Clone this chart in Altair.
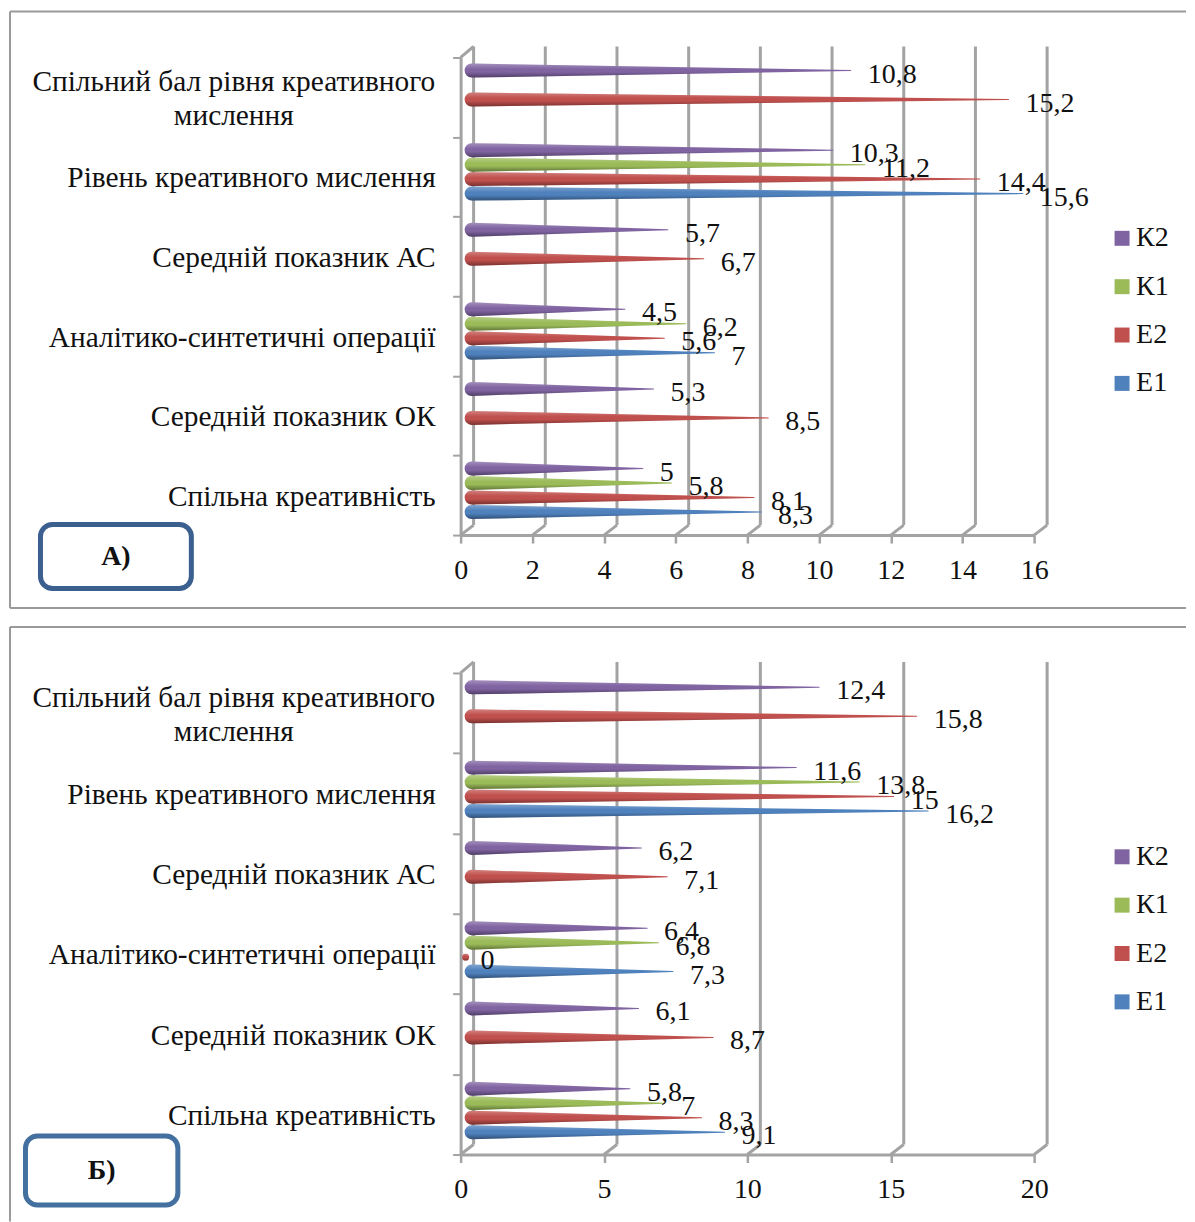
import altair as alt
import pandas as pd

categories = ["Спільна креативність", "Середній показник ОК", "Аналітико-синтетичні операції",
              "Середній показник АС", "Рівень креативного мислення",
              "Спільний бал рівня креативного\nмислення"]
series_names = ["Е1", "Е2", "К1", "К2"]
colors = ["#4F81BD", "#C0504D", "#9BBB59", "#8064A2"]

a_e1 = [8.3, None, 7, None, 15.6, None]
a_e2 = [8.1, 8.5, 5.6, 6.7, 14.4, 15.2]
a_k1 = [5.8, None, 6.2, None, 11.2, None]
a_k2 = [5, 5.3, 4.5, 5.7, 10.3, 10.8]

b_e1 = [9.1, None, 7.3, None, 16.2, None]
b_e2 = [8.3, 8.7, 0, 7.1, 15, 15.8]
b_k1 = [7, None, 6.8, None, 13.8, None]
b_k2 = [5.8, 6.1, 6.4, 6.2, 11.6, 12.4]

FONT = "Liberation Serif"
GREY = "#a3a3a3"
FS = 28
FS_CAT = 29.4


def panel(series, x_max, x_step, plot_h, badge, box, frame, bounds, legend_y, shift):
    W = 574
    unit = W / x_max
    band = plot_h / 6
    rows, tips = [], []
    for name, vals in zip(series_names, series):
        slot = series_names.index(name)
        for cat, v in enumerate(vals):
            if v is None:
                continue
            y = cat + 0.5 + shift / band + (slot - 1.5) * 14.5 / band
            start = (8 if v > 0 else 2) / unit
            rows.append(dict(s=name, c=cat, x=start, y=y, size=14 if v > 0 else 7))
            rows.append(dict(s=name, c=cat, x=max(v, start), y=y, size=0 if v > 0 else 7))
            tips.append(dict(x=v, y=y, t=f"{v:g}".replace(".", ",")))
    bars = pd.DataFrame(rows)
    labels = pd.DataFrame(tips)
    ticks = pd.DataFrame({"x": list(range(0, x_max + 1, x_step))})
    cats = pd.DataFrame({"y": [i + 0.5 for i in range(6)], "t": categories})
    keys = pd.DataFrame({"s": series_names[::-1], "x": [0] * 4, "y": [0] * 4})

    xs = alt.Scale(domain=[0, x_max], nice=False)
    ys = alt.Scale(domain=[0, 6], nice=False)
    xq = alt.X("x:Q", scale=xs, title=None,
               axis=alt.Axis(values=ticks.x.tolist(), grid=False, tickSize=8, tickColor=GREY, tickWidth=2.5,
                             domainColor=GREY, domainWidth=3, labelFont=FONT, labelFontSize=FS,
                             labelColor="#111", labelPadding=13, labelFlush=False, format="d"))
    yq = alt.Y("y:Q", scale=ys, title=None,
               axis=alt.Axis(values=list(range(7)), labels=False, grid=False, tickSize=8, tickColor=GREY,
                             tickWidth=2, domainColor=GREY, domainWidth=3))
    cs = alt.Scale(domain=series_names[::-1], range=colors[::-1])

    L, T, R, B = bounds
    one = alt.Data(values=[{}])
    layers = []
    layers.append(alt.Chart(one).mark_rect(fill="transparent", stroke=None).encode(
        x=alt.value(L), x2=alt.value(R), y=alt.value(T), y2=alt.value(B)))
    fl, ft, fb = frame
    layers.append(alt.Chart(one).mark_rule(color="#9a9a9a", strokeWidth=2).encode(
        x=alt.value(fl), x2=alt.value(R), y=alt.value(ft)))
    layers.append(alt.Chart(one).mark_rule(color="#9a9a9a", strokeWidth=2).encode(
        x=alt.value(fl), y=alt.value(ft), y2=alt.value(fb if fb is not None else B)))
    if fb is not None:
        layers.append(alt.Chart(one).mark_rule(color="#9a9a9a", strokeWidth=2).encode(
            x=alt.value(fl), x2=alt.value(R), y=alt.value(fb)))
    layers.append(alt.Chart(ticks).mark_rule(color=GREY, strokeWidth=3, xOffset=13).encode(
        x=xq, y=alt.value(-11), y2=alt.value(plot_h - 10)))
    layers.append(alt.Chart(ticks).mark_rule(color=GREY, strokeWidth=3, x2Offset=13).encode(
        x=xq, x2="x:Q", y=alt.value(plot_h), y2=alt.value(plot_h - 10)))
    layers.append(alt.Chart(ticks[ticks.x == 0]).mark_rule(color=GREY, strokeWidth=3, x2Offset=13).encode(
        x=xq, x2="x:Q", y=alt.value(0), y2=alt.value(-11)))
    # legend carrier: square symbols, not drawn in the plot
    layers.append(alt.Chart(keys).mark_point(shape="square", filled=True, opacity=0, size=0).encode(
        x=xq, y=yq,
        color=alt.Color("s:N", scale=cs,
                        legend=alt.Legend(title=None, orient="none", legendX=648, legendY=legend_y,
                                          symbolType="square", symbolSize=225, symbolOpacity=1, symbolStrokeWidth=0,
                                          labelFont=FONT, labelFontSize=FS, labelColor="#111",
                                          labelOffset=0, rowPadding=20.4, labelLimit=80))))
    layers.append(alt.Chart(bars).mark_trail(xOffset=3).encode(
        x=xq, y=yq,
        color=alt.Color("s:N", scale=cs, legend=None),
        size=alt.Size("size:Q", scale=None, legend=None),
        detail=["c:N", "s:N"], order=alt.Order("x:Q")))
    shade = alt.Gradient(gradient="linear", x1=0, x2=0, y1=0, y2=1, stops=[
        alt.GradientStop(color="rgba(255,255,255,0.28)", offset=0),
        alt.GradientStop(color="rgba(255,255,255,0)", offset=0.4),
        alt.GradientStop(color="rgba(0,0,0,0)", offset=0.6),
        alt.GradientStop(color="rgba(0,0,0,0.38)", offset=1)])
    layers.append(alt.Chart(bars).mark_trail(xOffset=3, color=shade).encode(
        x=xq, y=yq,
        size=alt.Size("size:Q", scale=None, legend=None),
        detail=["c:N", "s:N"], order=alt.Order("x:Q")))
    layers.append(alt.Chart(labels).mark_text(align="left", baseline="middle", dx=20, dy=4, font=FONT,
                                              fontSize=FS, color="#111").encode(
        x=xq, y=yq, text="t:N"))
    single = cats[~cats.t.str.contains("\n")]
    double = cats[cats.t.str.contains("\n")]
    layers.append(alt.Chart(single).mark_text(align="right", baseline="middle", dy=1.5, font=FONT,
                                              fontSize=FS_CAT, color="#111").encode(
        x=alt.value(-25), y=yq, text="t:N"))
    layers.append(alt.Chart(double).mark_text(align="center", baseline="middle", dy=-15.5, font=FONT, fontSize=FS_CAT,
                                              color="#111", lineBreak="\n", lineHeight=34).encode(
        x=alt.value(-227), y=yq, text="t:N"))
    bx0, bx1, by0, by1, bcol = box
    layers.append(alt.Chart(one).mark_rect(fill="white", stroke=bcol, strokeWidth=5, cornerRadius=12).encode(
        x=alt.value(bx0), x2=alt.value(bx1), y=alt.value(by0), y2=alt.value(by1)))
    layers.append(alt.Chart(pd.DataFrame({"t": [badge]})).mark_text(
        align="center", baseline="middle", font=FONT, fontSize=FS, fontWeight="bold", color="#111").encode(
        x=alt.value((bx0 + bx1) / 2), y=alt.value((by0 + by1) / 2), text="t:N"))

    return alt.layer(*layers).properties(width=W, height=plot_h)


top_a, top_b = 57, 673
x0 = 461
right = 1187
chart_a = panel([a_e1, a_e2, a_k1, a_k2], 16, 2, 478, "А)",
                (40.5 - x0, 191.5 - x0, 524.5 - top_a, 588.5 - top_a, "#3B5F8F"),
                (10 - x0, 11 - top_a, 608 - top_a),
                (8 - x0, 8 - top_a, right - x0, 617 - top_a), 167, 5)
chart_b = panel([b_e1, b_e2, b_k1, b_k2], 20, 5, 482, "Б)",
                (25.5 - x0, 178 - x0, 1136.5 - top_b, 1205.5 - top_b, "#44709F"),
                (10 - x0, 627 - top_b, None),
                (8 - x0, 617 - top_b, right - x0, 1222 - top_b), 170, 4)

chart = (alt.vconcat(chart_a, chart_b, spacing=0)
         .resolve_scale(color="independent")
         .properties(padding=0, background="white")
         .configure_view(stroke=None))
chart.save("out.html", embed_options={"renderer": "svg", "actions": False})
